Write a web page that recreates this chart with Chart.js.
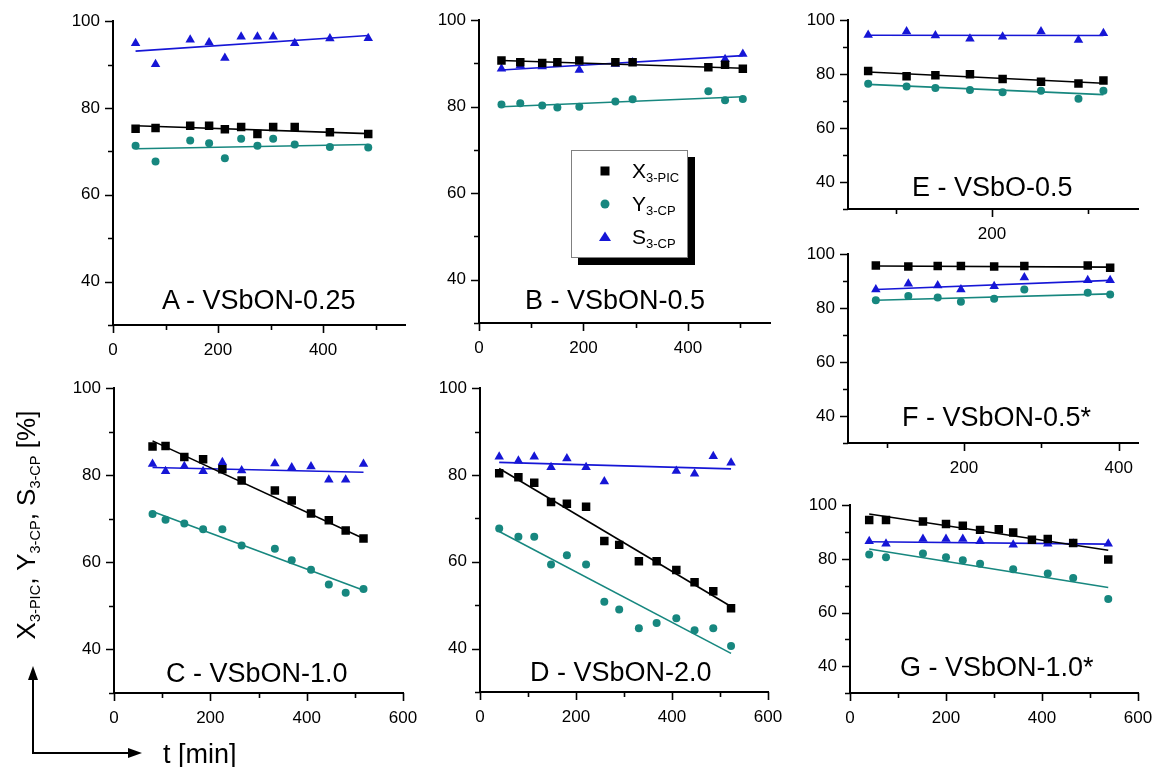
<!DOCTYPE html>
<html><head><meta charset="utf-8">
<script src="https://cdn.jsdelivr.net/npm/chart.js@4.4.1/dist/chart.umd.min.js"></script>
<style>
body{margin:0;background:#fff;width:1157px;height:767px;overflow:hidden;position:relative;font-family:'Liberation Sans',Arial,sans-serif;color:#000;}
.panel{position:absolute;}
.ttl{position:absolute;font-size:27px;line-height:27px;white-space:nowrap;z-index:5;}
.abs{position:absolute;white-space:nowrap;z-index:6;}
sub{font-size:0.56em;line-height:0;vertical-align:-0.32em;}
</style></head><body>
<script>
// ---------- DATA ----------
// Panel A - VSbON-0.25
const tA = [43, 81, 147, 183, 213, 244, 275, 305, 346, 413, 486];
const xA = [75.2, 75.4, 75.9, 75.9, 75.1, 75.6, 74.0, 75.6, 75.6, 74.4, 74.0];
const yA = [71.3, 67.7, 72.5, 71.9, 68.4, 72.9, 71.3, 72.9, 71.6, 71.0, 70.9];
const sA = [94.9, 90.1, 95.7, 95.1, 91.5, 96.4, 96.4, 96.4, 94.9, 96.0, 96.1];
const fitTA = [43, 486], fitXA = [75.9, 74.1], fitYA = [70.6, 71.6], fitSA = [93.1, 96.7];
// Panel B - VSbON-0.5
const tB = [43, 79, 121, 150, 192, 261, 294, 439, 471, 505];
const xB = [90.7, 90.3, 90.1, 90.3, 90.7, 90.3, 90.3, 89.1, 89.7, 88.8];
const yB = [80.5, 80.8, 80.3, 79.8, 80.0, 81.2, 81.7, 83.6, 81.5, 81.8];
const tSB = [43, 79, 121, 150, 192, 261, 294, 471, 505];
const sB = [88.8, 89.5, 89.3, 89.9, 88.5, 89.9, 90.2, 91.0, 92.2];
const fitTB = [43, 505], fitXB = [90.7, 88.9], fitYB = [80.0, 82.3], fitSB = [88.5, 91.8];
// Panel C - VSbON-1.0
const tC = [80, 107, 146, 185, 225, 265, 334, 369, 409, 446, 481, 518];
const xC = [86.6, 86.7, 84.2, 83.7, 81.4, 78.8, 76.5, 74.2, 71.2, 69.7, 67.3, 65.5];
const yC = [71.1, 69.8, 68.9, 67.6, 67.6, 63.9, 63.1, 60.5, 58.3, 54.9, 53.0, 53.9];
const sC = [82.6, 80.9, 82.1, 80.9, 83.0, 81.1, 82.7, 81.8, 82.0, 79.0, 79.0, 82.6];
const fitTC = [80, 518], fitXC = [87.9, 65.5], fitYC = [71.7, 53.6], fitSC = [81.8, 80.7];
// Panel D - VSbON-2.0
const tD = [40, 80, 113, 148, 181, 221, 259, 290, 331, 368, 409, 447, 486, 523];
const xD = [80.4, 79.5, 78.2, 73.8, 73.4, 72.7, 64.8, 63.9, 60.1, 60.1, 58.1, 55.3, 53.2, 49.3];
const yD = [67.7, 65.8, 65.8, 59.4, 61.5, 59.4, 50.8, 49.0, 44.7, 45.9, 47.0, 44.2, 44.7, 40.6];
const tSD = [40, 80, 113, 148, 181, 221, 259, 409, 447, 486, 523];
const sD = [84.2, 83.3, 84.2, 81.8, 83.8, 81.8, 78.5, 80.9, 80.3, 84.3, 82.8];
const fitTD = [40, 523], fitXD = [81.5, 49.7], fitYD = [67.0, 38.9], fitSD = [82.9, 81.4];
// Panel E - VSbO-0.5
const tE = [71, 111, 141, 177, 211, 251, 290, 316];
const xE = [81.2, 79.2, 79.6, 80.0, 78.2, 77.2, 76.5, 77.6];
const yE = [76.4, 75.4, 74.9, 74.1, 73.3, 73.8, 70.9, 73.8];
const sE = [94.5, 95.8, 94.3, 93.1, 93.9, 95.8, 92.7, 95.2];
const fitTE = [71, 316], fitXE = [80.8, 76.6], fitYE = [76.2, 72.4], fitSE = [94.4, 94.3];
// Panel F - VSbON-0.5*
const tF = [86, 128, 166, 196, 239, 278, 360, 389];
const xF = [95.8, 95.4, 95.6, 95.6, 95.4, 95.6, 95.8, 95.0];
const yF = [82.9, 84.5, 83.9, 82.4, 83.5, 86.9, 85.7, 85.1];
const sF = [86.9, 89.0, 88.4, 86.9, 88.1, 91.4, 90.3, 90.3];
const fitTF = [86, 389], fitXF = [95.6, 95.2], fitYF = [82.9, 85.3], fitSF = [86.9, 90.3];
// Panel G - VSbON-1.0*
const tG = [40, 75, 152, 200, 235, 271, 310, 340, 379, 412, 465, 538];
const xG = [94.5, 94.5, 93.9, 93.0, 92.3, 90.8, 91.0, 89.8, 87.1, 87.4, 85.9, 79.8];
const tYG = [40, 75, 152, 200, 235, 271, 340, 412, 465, 538];
const yG = [81.6, 80.6, 82.0, 80.6, 79.5, 78.2, 76.1, 74.5, 72.9, 65.0];
const sG = [86.6, 85.6, 87.4, 87.4, 87.4, 86.6, 85.3, 85.6, 85.6, 85.6];
const fitTG = [40, 538], fitXG = [96.7, 83.2], fitYG = [83.7, 69.3], fitSG = [86.4, 85.5];

// Tick values / labels
const yTicks = [30, 40, 50, 60, 70, 80, 90, 100];
const yTickLabels = ['', '40', '', '60', '', '80', '', '100'];
const xTicks600 = [0, 100, 200, 300, 400, 500, 600];
const xLabels600 = ['0', '', '200', '', '400', '', '600'];
const xTicksAB = [0, 100, 200, 300, 400, 500];
const xLabelsAB = ['0', '', '200', '', '400', ''];
const xTicksE = [100, 200, 300];
const xLabelsE = ['', '200', ''];
const xTicksF = [100, 200, 300, 400];
const xLabelsF = ['', '200', '', '400'];
const panelTitles = ['A - VSbON-0.25', 'B - VSbON-0.5', 'C - VSbON-1.0', 'D - VSbON-2.0', 'E - VSbO-0.5', 'F - VSbON-0.5*', 'G - VSbON-1.0*'];

// ---------- STYLE ----------
const BLACK = '#000000', TEAL = '#17877f', BLUE = '#1616d6';
Chart.defaults.font.family = "'Liberation Sans', Arial, sans-serif";
Chart.defaults.color = '#000';

const tickMarks = {
  id: 'tickMarks',
  afterDraw(chart) {
    const ctx = chart.ctx, xs = chart.scales.x, ys = chart.scales.y;
    ctx.save();
    ctx.strokeStyle = '#000'; ctx.lineWidth = 1.6;
    ctx.beginPath();
    xs.ticks.forEach(t => {
      const p = Math.round(xs.getPixelForValue(t.value)) + 0.5;
      const L = t.value % 200 === 0 ? 8 : 5;
      ctx.moveTo(p, xs.top); ctx.lineTo(p, xs.top + L);
    });
    ys.ticks.forEach(t => {
      const p = Math.round(ys.getPixelForValue(t.value)) + 0.5;
      const L = t.value % 20 === 0 ? 8 : 5;
      ctx.moveTo(ys.right - L, p); ctx.lineTo(ys.right, p);
    });
    ctx.stroke();
    ctx.restore();
  }
};

const pts = (ts, vs) => ts.map((t, i) => ({x: t, y: vs[i]}));

function makePanel(p) {
  const YW = 60, PT = 20, PR = 45, XH = 45;
  const w = YW + (p.right - p.left) + PR, h = PT + (p.bottom - p.top) + XH;
  const div = document.createElement('div');
  div.className = 'panel';
  Object.assign(div.style, {left: (p.left - YW) + 'px', top: (p.top - PT) + 'px', width: w + 'px', height: h + 'px'});
  const cv = document.createElement('canvas');
  cv.width = w; cv.height = h; cv.style.width = w + 'px'; cv.style.height = h + 'px';
  div.appendChild(cv);
  document.body.appendChild(div);
  const fitDs = (vals, color) => ({data: pts(p.fitT, vals), showLine: true, borderColor: color, borderWidth: 1.6, pointRadius: 0, order: 2});
  const ptDs = (ts, vals, color, style, r) => ({data: pts(ts, vals), showLine: false, pointStyle: style, pointRadius: r, pointHoverRadius: r,
    backgroundColor: color, borderColor: color, borderWidth: 0, order: 1});
  new Chart(cv, {
    type: 'scatter',
    data: {datasets: [
      fitDs(p.fitX, BLACK), fitDs(p.fitY, TEAL), fitDs(p.fitS, BLUE),
      ptDs(p.tx, p.x, BLACK, 'rect', 6),
      ptDs(p.ty, p.y, TEAL, 'circle', 4),
      ptDs(p.ts, p.s, BLUE, 'triangle', 5.5)
    ]},
    options: {
      responsive: false, animation: false, devicePixelRatio: 1,
      layout: {padding: {top: PT, right: PR, left: 0, bottom: 0}},
      plugins: {legend: {display: false}, tooltip: {enabled: false}},
      scales: {
        x: {type: 'linear', min: p.xmin, max: p.xmax,
          grid: {display: false, drawTicks: false},
          border: {display: true, color: '#000', width: 2},
          afterBuildTicks: s => { s.ticks = p.xt.map(v => ({value: v})); },
          ticks: {padding: 15, autoSkip: false, maxRotation: 0, font: {size: 17}, color: '#000',
            callback: (v, i) => p.xl[i]},
          afterFit: s => { s.height = XH; }},
        y: {type: 'linear', min: 30, max: 100,
          grid: {display: false, drawTicks: false},
          border: {display: true, color: '#000', width: 2},
          afterBuildTicks: s => { s.ticks = yTicks.map(v => ({value: v})); },
          ticks: {padding: 13, autoSkip: false, font: {size: 17}, color: '#000',
            callback: (v, i) => yTickLabels[i]},
          afterFit: s => { s.width = YW; }}
      }
    },
    plugins: [tickMarks]
  });
}

const panels = [
  {left: 113, top: 18, right: 405, bottom: 325, xmin: 0, xmax: 556, xt: xTicksAB, xl: xLabelsAB,
   tx: tA, x: xA, ty: tA, y: yA, ts: tA, s: sA, fitT: fitTA, fitX: fitXA, fitY: fitYA, fitS: fitSA},
  {left: 479, top: 17, right: 770, bottom: 323, xmin: 0, xmax: 557, xt: xTicksAB, xl: xLabelsAB,
   tx: tB, x: xB, ty: tB, y: yB, ts: tSB, s: sB, fitT: fitTB, fitX: fitXB, fitY: fitYB, fitS: fitSB},
  {left: 114, top: 385, right: 403, bottom: 693, xmin: 0, xmax: 600, xt: xTicks600, xl: xLabels600,
   tx: tC, x: xC, ty: tC, y: yC, ts: tC, s: sC, fitT: fitTC, fitX: fitXC, fitY: fitYC, fitS: fitSC},
  {left: 480, top: 385, right: 768, bottom: 692, xmin: 0, xmax: 600, xt: xTicks600, xl: xLabels600,
   tx: tD, x: xD, ty: tD, y: yD, ts: tSD, s: sD, fitT: fitTD, fitX: fitXD, fitY: fitYD, fitS: fitSD},
  {left: 848, top: 17, right: 1138, bottom: 209, xmin: 50, xmax: 352, xt: xTicksE, xl: xLabelsE,
   tx: tE, x: xE, ty: tE, y: yE, ts: tE, s: sE, fitT: fitTE, fitX: fitXE, fitY: fitYE, fitS: fitSE},
  {left: 848, top: 251, right: 1138, bottom: 443, xmin: 50, xmax: 425, xt: xTicksF, xl: xLabelsF,
   tx: tF, x: xF, ty: tF, y: yF, ts: tF, s: sF, fitT: fitTF, fitX: fitXF, fitY: fitYF, fitS: fitSF},
  {left: 850, top: 502, right: 1138, bottom: 693, xmin: 0, xmax: 600, xt: xTicks600, xl: xLabels600,
   tx: tG, x: xG, ty: tYG, y: yG, ts: tYG, s: sG, fitT: fitTG, fitX: fitXG, fitY: fitYG, fitS: fitSG}
];
panels.forEach(makePanel);

// Panel titles (inside each plot)
const titlePos = [[162, 286.5], [525, 287], [166, 659.5], [530, 659], [912, 174], [902, 404], [900, 654]];
panelTitles.forEach((t, i) => {
  const d = document.createElement('div');
  d.className = 'ttl';
  d.textContent = t;
  d.style.left = titlePos[i][0] + 'px';
  d.style.top = titlePos[i][1] + 'px';
  document.body.appendChild(d);
});
</script>

<!-- legend (panel B) -->
<div class="abs" style="left:578px;top:157px;width:117px;height:108px;background:#000;z-index:3"></div>
<div class="abs" style="left:571px;top:150px;width:115px;height:106px;background:#fff;border:1px solid #808080;z-index:4"></div>
<svg class="abs" width="1157" height="767" style="left:0;top:0;z-index:5;pointer-events:none">
  <rect x="600.5" y="166.5" width="9" height="9" fill="#000"/>
  <circle cx="605" cy="204" r="4.5" fill="#17877f"/>
  <polygon points="605,231.5 611,241 599,241" fill="#1616d6"/>
  <!-- axis arrows -->
  <path d="M33,676 L33,753 L131,753" stroke="#000" stroke-width="2" fill="none"/>
  <polygon points="33,666 28,680 38,680" fill="#000"/>
  <polygon points="142,753 128,748 128,758" fill="#000"/>
</svg>
<div class="abs" style="left:632px;top:160px;font-size:21px;line-height:21px">X<sub style="font-size:13px">3-PIC</sub></div>
<div class="abs" style="left:632px;top:193px;font-size:21px;line-height:21px">Y<sub style="font-size:13px">3-CP</sub></div>
<div class="abs" style="left:632px;top:226px;font-size:21px;line-height:21px">S<sub style="font-size:13px">3-CP</sub></div>

<!-- y axis title -->
<div class="abs" style="left:26px;top:525px;transform:translate(-50%,-50%) rotate(-90deg);font-size:26px;line-height:30px">X<sub>3-PIC</sub>, Y<sub>3-CP</sub>, S<sub>3-CP</sub> [%]</div>
<!-- x axis title -->
<div class="abs" style="left:163px;top:741px;font-size:27px;line-height:27px">t [min]</div>
</body></html>
